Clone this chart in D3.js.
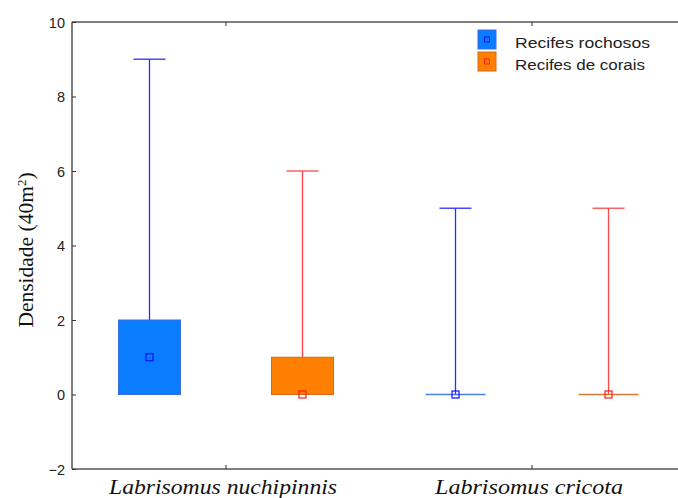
<!DOCTYPE html>
<html><head><meta charset="utf-8">
<script src="https://cdn.jsdelivr.net/npm/d3@7"></script>
<style>body{margin:0;background:#fff}svg{display:block}</style>
</head><body>
<svg id="c" width="678" height="498"></svg>
<script>
const categories = ["Labrisomus nuchipinnis", "Labrisomus cricota"];
const series = ["Recifes rochosos", "Recifes de corais"];
const medians = [[1, 0], [0, 0]];
const q1s = [[0, 0], [0, 0]];
const q3s = [[2, 1], [0, 0]];
const mins = [[0, 0], [0, 0]];
const maxs = [[9, 6], [5, 5]];
const yTicks = [-2, 0, 2, 4, 6, 8, 10];

const fills = ["#0a7cff", "#ff8000"];
const boxStrokes = ["#3b6fe0", "#d46a1c"];
const whiskerColors = ["#2a2aff", "#ff4545"];
const markerColors = ["#1010ff", "#ff1a1a"];

const svg = d3.select("#c");
const L = 72, T = 22, B = 469, R = 685;
const y = d3.scaleLinear().domain([-2, 10]).range([B, T]);
const x = d3.scaleBand().domain(categories).range([L + 1, R]);
const xs = d3.scalePoint().domain(series).range([-76.5, 76.5]);

const axisColor = "#555";
svg.append("line").attr("x1", L).attr("x2", L).attr("y1", T).attr("y2", B).attr("stroke", axisColor).attr("stroke-width", 1.5);
svg.append("line").attr("x1", L).attr("x2", 678).attr("y1", B).attr("y2", B).attr("stroke", axisColor).attr("stroke-width", 1.5);
svg.append("line").attr("x1", L).attr("x2", 678).attr("y1", T).attr("y2", T).attr("stroke", axisColor).attr("stroke-width", 1.5);

const yAxis = d3.axisLeft(y).tickValues(yTicks).tickSize(-4).tickPadding(7).tickFormat(d3.format("d"));
const gy = svg.append("g").attr("transform", `translate(${L},0)`).call(yAxis);
gy.select(".domain").remove();
gy.selectAll(".tick line").attr("stroke", "#333");
gy.selectAll(".tick text").attr("font-family", "Arial, 'Liberation Sans', sans-serif").attr("font-size", 14.5).attr("fill", "#222").attr("dy", "0.35em").attr("x", -7);

const labelLens = [228, 188];
categories.forEach((c, ci) => {
  const cx = x(c) + x.bandwidth() / 2;
  svg.append("line").attr("x1", cx).attr("x2", cx).attr("y1", B).attr("y2", B - 4).attr("stroke", "#333");
  svg.append("line").attr("x1", cx).attr("x2", cx).attr("y1", T).attr("y2", T + 4).attr("stroke", "#333");
  svg.append("text").attr("x", cx - 3).attr("y", 494).attr("text-anchor", "middle")
    .attr("font-family", "'Liberation Serif', 'Times New Roman', serif").attr("font-style", "italic")
    .attr("font-size", 22).attr("fill", "#111")
    .attr("textLength", labelLens[ci]).attr("lengthAdjust", "spacingAndGlyphs").text(c);
});

const boxW = 62, capW = 32, mk = 7;
categories.forEach((c, ci) => {
  const cx = x(c) + x.bandwidth() / 2;
  series.forEach((s, si) => {
    const px = cx + xs(s);
    const g = svg.append("g");
    g.append("line").attr("x1", px).attr("x2", px).attr("y1", y(maxs[ci][si])).attr("y2", y(q3s[ci][si]))
      .attr("stroke", whiskerColors[si]).attr("stroke-width", 1.3);
    g.append("line").attr("x1", px - capW / 2).attr("x2", px + capW / 2).attr("y1", y(maxs[ci][si])).attr("y2", y(maxs[ci][si]))
      .attr("stroke", whiskerColors[si]).attr("stroke-width", 1.3).attr("opacity", 0.85);
    g.append("line").attr("x1", px).attr("x2", px).attr("y1", y(mins[ci][si])).attr("y2", y(q1s[ci][si]))
      .attr("stroke", whiskerColors[si]).attr("stroke-width", 1.3);
    const h = y(q1s[ci][si]) - y(q3s[ci][si]);
    if (h > 0) {
      g.append("rect").attr("x", px - boxW / 2).attr("y", y(q3s[ci][si])).attr("width", boxW).attr("height", h)
        .attr("fill", fills[si]).attr("stroke", boxStrokes[si]).attr("stroke-width", 1);
    } else {
      g.append("line").attr("x1", px - boxW / 2 + 1).attr("x2", px + boxW / 2 - 1).attr("y1", y(q1s[ci][si])).attr("y2", y(q1s[ci][si]))
        .attr("stroke", boxStrokes[si]).attr("stroke-width", 1.5).attr("opacity", 0.9);
    }
    g.append("rect").attr("x", px - mk / 2).attr("y", y(medians[ci][si]) - mk / 2).attr("width", mk).attr("height", mk)
      .attr("fill", "none").attr("stroke", markerColors[si]).attr("stroke-width", 1.2);
  });
});

const legendLens = [135, 130];
series.forEach((s, i) => {
  const ly = 30 + i * 22;
  svg.append("rect").attr("x", 478).attr("y", ly).attr("width", 18).attr("height", 19)
    .attr("fill", fills[i]).attr("stroke", boxStrokes[i]).attr("stroke-width", 1);
  svg.append("rect").attr("x", 484.5).attr("y", ly + 7).attr("width", 5).attr("height", 5)
    .attr("fill", "none").attr("stroke", markerColors[i]).attr("stroke-width", 1);
  svg.append("text").attr("x", 515).attr("y", ly + 18).attr("font-family", "Arial, 'Liberation Sans', sans-serif")
    .attr("font-size", 15.5).attr("fill", "#222")
    .attr("textLength", legendLens[i]).attr("lengthAdjust", "spacingAndGlyphs").text(s);
});

const yl = svg.append("text").attr("transform", "translate(33,250) rotate(-90)").attr("text-anchor", "middle")
  .attr("font-family", "'Liberation Serif', 'Times New Roman', serif").attr("font-size", 21.5).attr("fill", "#111");
yl.append("tspan").text("Densidade (40m");
yl.append("tspan").attr("baseline-shift", "super").attr("font-size", 13).text("2");
yl.append("tspan").text(")");
</script>
</body></html>
